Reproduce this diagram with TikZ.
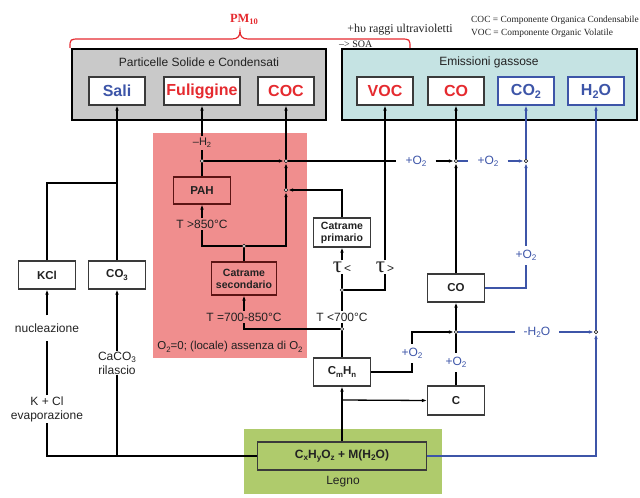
\documentclass[tikz,border=0pt]{standalone}
\usepackage{fontspec}
\setmainfont{Liberation Sans}
\newfontfamily\tms{Liberation Serif}
\usetikzlibrary{arrows.meta}
\definecolor{myred}{HTML}{E52A2F}
\definecolor{myblue}{HTML}{3D55A8}
\definecolor{pinkbg}{HTML}{F08E8E}
\definecolor{graybg}{HTML}{C9C9C9}
\definecolor{cyanbg}{HTML}{C5E3E3}
\definecolor{greenbg}{HTML}{AFCB6C}
\definecolor{edge}{HTML}{3A3A3A}
\definecolor{darkred}{HTML}{5C1414}
\definecolor{txt}{HTML}{222222}
\newcommand\sbs[1]{\raisebox{-0.35ex}{\scalebox{0.68}{#1}}}
\newcommand\fsz[2]{\fontsize{#1}{#2}\selectfont}
\begin{document}
\begin{tikzpicture}[x=1pt,y=-1pt,
  every node/.style={text=txt},
  box/.style={draw=edge,fill=white,line width=1.1pt,minimum width=57pt,minimum height=28pt,inner sep=0pt,font=\bfseries\fsz{11.5}{13},align=center},
  topbox/.style={box,minimum width=56pt,font=\bfseries\fsz{16}{18}},
  region/.style={draw=black,line width=1.4pt,inner sep=0pt},
  lbl/.style={inner xsep=2pt,inner ysep=2pt,font=\fsz{12}{13},align=center},
  olbl/.style={lbl,text=myblue,inner xsep=9pt,inner ysep=4pt},
  dot/.style={circle,draw=black,fill=white,line width=0.6pt,inner sep=0pt,minimum size=3.6pt},
  arr/.style={-{Latex[length=5pt,width=3.6pt]}},
  conn/.style={line width=1.3pt,draw=black},
  bconn/.style={line width=1.3pt,draw=myblue}]
\useasboundingbox (0,0) rectangle (640,498);
% regions
\node[region,fill=graybg,minimum width=254pt,minimum height=71pt] (gray) at (199,84.5) {};
\node[font=\fsz{12}{13}] (graytitle) at (199,62) {Particelle Solide e Condensati};
\node[region,fill=cyanbg,minimum width=295pt,minimum height=71pt] (emis) at (489.5,84.5) {};
\node[font=\fsz{12}{13}] (emistitle) at (489,62) {Emissioni gassose};
\node[fill=pinkbg,minimum width=154pt,minimum height=225pt,inner sep=0pt] (pink) at (230,245.5) {};
\node[fill=greenbg,minimum width=198pt,minimum height=65pt,inner sep=0pt] (green) at (343,461.5) {};
% brace and top texts
\draw[myred,line width=1.2pt] (70,48) .. controls (70,39) .. (80,39) -- (232,39) .. controls (238,39) and (240,36) .. (240,31) .. controls (240,36) and (242,39) .. (248,39) -- (400,39) .. controls (410,39) .. (410,48);
\node[text=myred,font=\tms\bfseries\fsz{12.5}{13}] (pm) at (244,19) {PM\sbs{10}};
\node[font=\tms\fsz{12}{13}] (uv) at (400,30) {+hυ raggi ultravioletti};
\node[font=\tms\fsz{10}{11},anchor=west,inner sep=0pt] (soa) at (339,44) {–> SOA};
\node[font=\tms\fsz{9.4}{10},anchor=west,inner sep=0pt] (leg1) at (471,20) {COC = Componente Organica Condensabile};
\node[font=\tms\fsz{9.4}{10},anchor=west,inner sep=0pt] (leg2) at (471,33) {VOC = Componente Organic Volatile};
% top boxes
\node[topbox,text=myblue] (sali) at (117,91) {Sali};
\node[topbox,text=myred,minimum width=76pt] (fulig) at (202,91) {Fuliggine};
\node[topbox,text=myred] (coc) at (286,91) {COC};
\node[topbox,text=myred] (voc) at (385,91) {VOC};
\node[topbox,text=myred] (co) at (456,91) {CO};
\node[topbox,text=myblue,draw=myblue] (co2) at (526,91) {CO\sbs{2}};
\node[topbox,text=myblue,draw=myblue] (h2o) at (596,91) {H\sbs{2}O};
% pink area
\node[lbl,font=\fsz{11}{12}] (h2lbl) at (202,143) {–H\sbs{2}};
\node[dot] (d1) at (202,161) {};
\node[dot] (d2) at (286,161) {};
\node[dot] (d3) at (286,190) {};
\node[box,fill=none,draw=darkred,minimum height=27pt] (pah) at (202,190.5) {PAH};
\node[lbl] (t850) at (202,224) {T >850°C};
\node[dot] (d4) at (244,246) {};
\node[box,fill=none,draw=darkred,minimum width=65pt,minimum height=33pt,font=\bfseries\fsz{10.5}{12}] (catsec) at (244,278.5) {Catrame\\secondario};
\node[lbl] (t78) at (244,317) {T =700-850°C};
\node[lbl,font=\fsz{11.5}{12}] (o2note) at (230,347) {O\sbs{2}=0; (locale) assenza di O\sbs{2}};
% middle
\node[box,minimum height=29pt,font=\bfseries\fsz{10.5}{12}] (catprim) at (342,232.5) {Catrame\\primario};
\node[lbl,inner ysep=1pt] (tauL) at (342,267) {{\tms\fsz{23}{20}τ}\,<};
\node[lbl,inner ysep=1pt] (tauR) at (385,267) {{\tms\fsz{23}{20}τ}\,>};
\node[dot] (d5) at (342,290) {};
\node[lbl] (t700) at (342,317) {T <700°C};
\node[dot] (d6) at (342,329) {};
\node[box] (cmhn) at (342,372) {C\sbs{m}H\sbs{n}};
\node[box,minimum height=29pt] (cbox) at (456,400.5) {C};
\node[box] (cobox) at (456,288) {CO};
\node[dot] (d7) at (456,332) {};
\node[dot] (d8) at (456,161) {};
\node[dot] (d9) at (526,161) {};
\node[dot] (d10) at (596,332) {};
\node[olbl] (o2a) at (416,161) {+O\sbs{2}};
\node[olbl] (o2b) at (488,161) {+O\sbs{2}};
\node[olbl] (o2c) at (526,255) {+O\sbs{2}};
\node[olbl] (o2d) at (412,353) {+O\sbs{2}};
\node[olbl] (o2e) at (456,362) {+O\sbs{2}};
\node[olbl] (mh2o) at (537,332) {-H\sbs{2}O};
% legno
\node[box,fill=none,minimum width=169pt,minimum height=28pt,font=\bfseries\fsz{12}{13}] (legno) at (342,456) {C\sbs{x}H\sbs{y}O\sbs{z} + M(H\sbs{2}O)};
\node[lbl] (legnolbl) at (343,482) {Legno};
% left
\node[box] (kcl) at (47,275) {KCl};
\node[box] (co3) at (117,275) {CO\sbs{3}};
\node[lbl,inner ysep=8pt] (nucl) at (47,328) {nucleazione};
\node[lbl,inner ysep=1pt,font=\fsz{12}{14}] (evap) at (47,409) {K + Cl\\evaporazione};
\node[lbl,inner ysep=1pt,font=\fsz{12}{14}] (caco3) at (117,363) {CaCO\sbs{3}\\rilascio};
\coordinate (j1) at (117,456);
\coordinate (j2) at (117,183);
\coordinate (j3) at (342,400);
% connectors left
\draw[conn] (legno.west) -| (evap.south);
\draw[conn] (evap.north) -- (nucl.south);
\draw[conn,arr] (nucl.north) -- (kcl.south);
\draw[conn] (j1) -- (caco3.south);
\draw[conn,arr] (caco3.north) -- (co3.south);
\draw[conn] (kcl.north) |- (j2);
\draw[conn,arr] (co3.north) -- (sali.south);
% connectors pink
\draw[conn,arr] (h2lbl.north) -- (fulig.south);
\draw[conn] (d1) -- (h2lbl.south);
\draw[conn] (pah.north) -- (d1);
\draw[conn,arr] (d1) -- (d2);
\draw[conn,arr] (d2) -- (coc.south);
\draw[conn,arr] (d3) -- (d2);
\draw[conn,arr] (d4) -| (d3);
\draw[conn] (d4) -| (t850.south);
\draw[conn,arr] (t850.north) -- (pah.south);
\draw[conn] (catsec.north) -- (d4);
\draw[conn,arr] (t78.north) -- (catsec.south);
\draw[conn] (t78.south) |- (d6);
% connectors middle
\draw[conn,arr] (catprim.north) |- (d3);
\draw[conn,arr] (tauL.north) -- (catprim.south);
\draw[conn] (d5) -- (tauL.south);
\draw[conn] (d5) -| (tauR.south);
\draw[conn,arr] (tauR.north) -- (voc.south);
\draw[conn] (d5) -- (t700.north);
\draw[conn] (t700.south) -- (d6);
\draw[conn] (d6) -- (cmhn.north);
\draw[conn,arr] (legno.north) -- (cmhn.south);
\draw[conn,arr] (j3) -- (cbox.west);
\draw[conn] (cmhn.east) -| (o2d.south);
\draw[conn,arr] (o2d.north) |- (d7);
\draw[conn] (cbox.north) -- (o2e.south);
\draw[conn] (o2e.north) -- (d7);
\draw[conn,arr] (d7) -- (cobox.south);
\draw[bconn] (d7) -- (mh2o.west);
\draw[bconn,arr] (mh2o.east) -- (d10);
\draw[bconn,arr] (legno.east) -| (d10);
\draw[bconn,arr] (d10) -- (h2o.south);
\draw[conn,arr] (cobox.north) -- (d8);
\draw[conn,arr] (d8) -- (co.south);
\draw[conn] (d2) -- (o2a.west);
\draw[conn,arr] (o2a.east) -- (d8);
\draw[bconn] (d8) -- (o2b.west);
\draw[bconn,arr] (o2b.east) -- (d9);
\draw[bconn] (cobox.east) -| (o2c.south);
\draw[bconn,arr] (o2c.north) -- (d9);
\draw[bconn,arr] (d9) -- (co2.south);
\end{tikzpicture}
\end{document}
